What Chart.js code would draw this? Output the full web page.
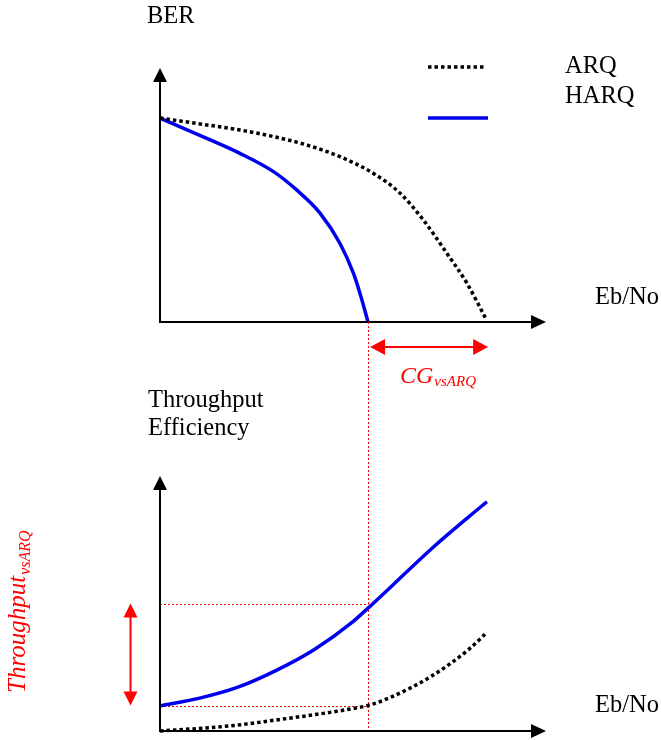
<!DOCTYPE html>
<html>
<head>
<meta charset="utf-8">
<script src="https://cdn.jsdelivr.net/npm/chart.js@4.4.1/dist/chart.umd.min.js"></script>
<style>
  body { margin: 0; background: #fff; }
  #wrap { position: relative; width: 661px; height: 740px; }
  canvas { position: absolute; left: 0; top: 0; }
</style>
</head>
<body>
<div id="wrap">
  <canvas id="berChart" width="661" height="740"></canvas>
  <canvas id="tpChart" width="661" height="740"></canvas>
</div>
<script>
// Eb/No in arbitrary units (0..10), curve heights in arbitrary units (0..10)
var harqBerX = [0, 1.21, 2.07, 2.94, 3.54, 4.15, 4.66, 5.01, 5.18, 5.39];
var harqBerY = [8.03, 7.23, 6.64, 5.92, 5.20, 4.28, 3.10, 1.92, 1.13, 0];
var arqBerX = [0, 1.21, 2.07, 2.94, 3.8, 4.66, 5.53, 6.22, 6.82, 7.43, 7.95, 8.46];
var arqBerY = [8.03, 7.76, 7.56, 7.30, 6.97, 6.51, 5.85, 5.07, 4.02, 2.71, 1.53, 0.08];

var harqTpX = [0, 1, 2, 3, 4, 5, 5.39, 6, 7, 8, 8.47];
var harqTpY = [0.99, 1.28, 1.71, 2.37, 3.2, 4.29, 4.82, 5.68, 7.1, 8.4, 8.99];
var arqTpX = [0, 1, 2, 3, 4, 5, 5.39, 6, 7, 8, 8.47];
var arqTpY = [0, 0.1, 0.23, 0.43, 0.64, 0.88, 1.0, 1.34, 2.12, 3.2, 3.87];

var seriesNames = ['ARQ', 'HARQ'];
var harqLimit = 5.39;      // Eb/No where HARQ BER reaches zero
var arqLimit = 8.5;        // Eb/No where ARQ BER reaches zero
var tpLevels = [5.0, 1.0]; // throughput of HARQ / ARQ at harqLimit

var serif = "'Liberation Serif', 'Times New Roman', serif";

function pts(xs, ys) {
    return xs.map(function (x, i) { return { x: x, y: ys[i] }; });
}

function arrowHead(ctx, x, y, dx, dy, len, half, color) {
    // tip at (x,y), pointing along (dx,dy)
    var px = -dy, py = dx;
    ctx.fillStyle = color;
    ctx.beginPath();
    ctx.moveTo(x, y);
    ctx.lineTo(x - dx * len + px * half, y - dy * len + py * half);
    ctx.lineTo(x - dx * len - px * half, y - dy * len - py * half);
    ctx.closePath();
    ctx.fill();
}

function drawAxes(chart) {
    var ctx = chart.ctx, a = chart.chartArea;
    var x0 = chart.scales.x.getPixelForValue(0);
    var y0 = chart.scales.y.getPixelForValue(0);
    ctx.save();
    ctx.strokeStyle = '#000';
    ctx.lineWidth = 2;
    ctx.beginPath();
    ctx.moveTo(x0, a.top + 10);
    ctx.lineTo(x0, y0);
    ctx.lineTo(a.right - 10, y0);
    ctx.stroke();
    arrowHead(ctx, x0, a.top, 0, -1, 14, 7, '#000');
    arrowHead(ctx, a.right, y0, 1, 0, 15, 7, '#000');
    ctx.restore();
}

function dotted(ctx, x1, y1, x2, y2) {
    ctx.save();
    ctx.strokeStyle = '#ff0000';
    ctx.lineWidth = 1;
    ctx.setLineDash([2, 2]);
    ctx.beginPath();
    ctx.moveTo(x1, y1);
    ctx.lineTo(x2, y2);
    ctx.stroke();
    ctx.restore();
}

function baseOptions(padTop, padBottom) {
    return {
        responsive: false,
        animation: false,
        events: [],
        layout: { padding: { left: 160, right: 115, top: padTop, bottom: padBottom } },
        plugins: { legend: { display: false }, tooltip: { enabled: false } },
        scales: {
            x: { type: 'linear', display: false, min: 0, max: 10 },
            y: { type: 'linear', display: false, min: 0, max: 10 }
        }
    };
}

function datasets(arqX, arqY, harqX, harqY) {
    return [{
        label: seriesNames[0],
        data: pts(arqX, arqY),
        borderColor: '#000',
        borderWidth: 3.5,
        borderDash: [3.5, 3],
        borderCapStyle: 'butt',
        pointRadius: 0,
        cubicInterpolationMode: 'monotone',
        clip: false
    }, {
        label: seriesNames[1],
        data: pts(harqX, harqY),
        borderColor: '#0000ee',
        borderWidth: 3.5,
        pointRadius: 0,
        cubicInterpolationMode: 'monotone',
        clip: false
    }];
}

// ---- BER chart (top)
var berPlugin = {
    id: 'berDecor',
    afterDatasetsDraw: function (chart) {
        var ctx = chart.ctx;
        var xs = chart.scales.x, ys = chart.scales.y;
        drawAxes(chart);
        ctx.save();
        ctx.fillStyle = '#000';
        ctx.font = '24.5px ' + serif;
        ctx.textBaseline = 'alphabetic';
        ctx.fillText('BER', 147, 23);
        ctx.fillText('Eb/No', 595, 304);
        ctx.fillText(seriesNames[0], 565, 73);
        ctx.fillText(seriesNames[1], 565, 103);

        // legend samples
        ctx.lineWidth = 3.5;
        ctx.lineCap = 'butt';
        ctx.strokeStyle = '#000';
        ctx.setLineDash([3.5, 3]);
        ctx.beginPath(); ctx.moveTo(428, 67); ctx.lineTo(486, 67); ctx.stroke();
        ctx.setLineDash([]);
        ctx.strokeStyle = '#0000ee';
        ctx.beginPath(); ctx.moveTo(428, 118); ctx.lineTo(488, 118); ctx.stroke();

        // coding gain arrow
        var y0 = ys.getPixelForValue(0);
        var ay = y0 + 25;
        var ax1 = xs.getPixelForValue(harqLimit) + 2;
        var ax2 = xs.getPixelForValue(arqLimit);
        ctx.strokeStyle = '#ff0000';
        ctx.lineWidth = 2;
        ctx.beginPath(); ctx.moveTo(ax1 + 10, ay); ctx.lineTo(ax2 - 10, ay); ctx.stroke();
        arrowHead(ctx, ax1, ay, -1, 0, 15, 8, '#ff0000');
        arrowHead(ctx, ax2, ay, 1, 0, 15, 8, '#ff0000');

        ctx.fillStyle = '#ff0000';
        ctx.font = 'italic 24px ' + serif;
        ctx.fillText('CG', 400, 383);
        var w = ctx.measureText('CG').width;
        ctx.font = 'italic 15px ' + serif;
        ctx.fillText('vsARQ', 400 + w + 1, 386);
        ctx.restore();
    }
};

var berChart = new Chart(document.getElementById('berChart').getContext('2d'), {
    type: 'line',
    data: { datasets: datasets(arqBerX, arqBerY, harqBerX, harqBerY) },
    options: baseOptions(68, 418),
    plugins: [berPlugin]
});

// ---- Throughput chart (bottom)
var tpPlugin = {
    id: 'tpDecor',
    beforeDatasetsDraw: function (chart) {
        var xs = chart.scales.x, ys = chart.scales.y;
        var ctx = chart.ctx;
        var x0 = xs.getPixelForValue(0);
        var xl = Math.round(xs.getPixelForValue(harqLimit)) + 0.5;
        var topY = berChart.scales.y.getPixelForValue(0);
        dotted(ctx, xl, topY, xl, ys.getPixelForValue(0));
        tpLevels.forEach(function (v) {
            var y = Math.round(ys.getPixelForValue(v)) + 0.5;
            dotted(ctx, x0, y, xl, y);
        });
    },
    afterDatasetsDraw: function (chart) {
        var ctx = chart.ctx;
        var ys = chart.scales.y;
        drawAxes(chart);
        ctx.save();
        ctx.fillStyle = '#000';
        ctx.font = '24.5px ' + serif;
        ctx.fillText('Throughput', 148, 407);
        ctx.fillText('Efficiency', 148, 435);
        ctx.fillText('Eb/No', 595, 712);

        // throughput gain arrow
        var ax = 130.5;
        var y1 = ys.getPixelForValue(tpLevels[0]);
        var y2 = ys.getPixelForValue(tpLevels[1]);
        ctx.strokeStyle = '#ff0000';
        ctx.lineWidth = 2;
        ctx.beginPath(); ctx.moveTo(ax, y1 + 10); ctx.lineTo(ax, y2 - 10); ctx.stroke();
        arrowHead(ctx, ax, y1, 0, -1, 14, 7, '#ff0000');
        arrowHead(ctx, ax, y2, 0, 1, 14, 7, '#ff0000');

        // rotated label
        ctx.translate(25, 693);
        ctx.rotate(-Math.PI / 2);
        ctx.fillStyle = '#ff0000';
        ctx.font = 'italic 25px ' + serif;
        ctx.fillText('Throughput', 0, 0);
        var w = ctx.measureText('Throughput').width;
        ctx.font = 'italic 16px ' + serif;
        ctx.fillText('vsARQ', w + 1, 5);
        ctx.restore();
    }
};

var tpChart = new Chart(document.getElementById('tpChart').getContext('2d'), {
    type: 'line',
    data: { datasets: datasets(arqTpX, arqTpY, harqTpX, harqTpY) },
    options: baseOptions(476, 9),
    plugins: [tpPlugin]
});
</script>
</body>
</html>
